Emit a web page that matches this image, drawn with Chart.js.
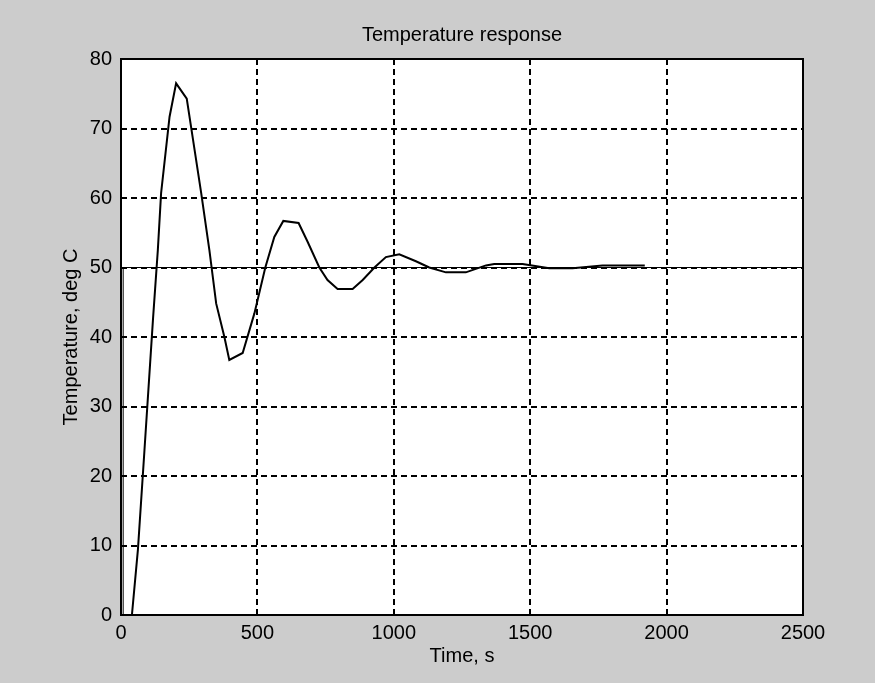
<!DOCTYPE html>
<html>
<head>
<meta charset="utf-8">
<script src="https://cdn.jsdelivr.net/npm/chart.js@4"></script>
<style>
  body { margin: 0; background: #cccccc; }
  canvas { display: block; }
</style>
</head>
<body>
<canvas id="tempChart" width="875" height="683"></canvas>
<script>
// Temperature response data
const times = [0, 40, 62, 86, 117, 135, 147, 178, 202, 241, 294, 324, 349, 379, 397, 446, 489, 529, 562, 595, 651, 684, 727, 757, 794, 849, 886, 929, 971, 1020, 1081, 1130, 1191, 1264, 1338, 1368, 1472, 1570, 1655, 1765, 1920];
const temps = [0, 0, 9.4, 23.7, 42.4, 52.5, 60.7, 71.7, 76.5, 74.3, 60.7, 52.5, 44.8, 40, 36.7, 37.7, 43.4, 50, 54.4, 56.7, 56.4, 53.7, 50, 48.2, 46.9, 46.9, 48.2, 50, 51.5, 51.9, 50.9, 50, 49.3, 49.3, 50.3, 50.5, 50.5, 49.9, 49.9, 50.3, 50.3];

// Setpoint step
const setTimes = [8, 8, 2500];
const setTemps = [0, 50, 50];

// Axis ticks
const xTicks = [0, 500, 1000, 1500, 2000, 2500];
const yTicks = [0, 10, 20, 30, 40, 50, 60, 70, 80];

const font = { family: '"Liberation Sans", Arial, sans-serif', size: 20, weight: 'normal' };

// gray page, white plot, black frame
const plotFrame = {
  id: 'plotFrame',
  beforeDraw(chart) {
    const { ctx, chartArea: a } = chart;
    ctx.save();
    ctx.fillStyle = '#cccccc';
    ctx.fillRect(0, 0, chart.width, chart.height);
    ctx.fillStyle = '#ffffff';
    ctx.fillRect(a.left, a.top, a.right - a.left, a.bottom - a.top);
    ctx.restore();
  },
  beforeDatasetsDraw(chart) {
    const { ctx, chartArea: a } = chart;
    ctx.save();
    ctx.strokeStyle = '#000';
    ctx.lineWidth = 2;
    ctx.strokeRect(a.left, a.top, a.right - a.left, a.bottom - a.top);
    ctx.restore();
  }
};

const tempCtx = document.getElementById('tempChart').getContext('2d');
const tempChart = new Chart(tempCtx, {
  type: 'line',
  data: {
    datasets: [{
      label: 'Temperature',
      data: times.map((t, i) => ({ x: t, y: temps[i] })),
      borderColor: '#000',
      borderWidth: 2,
      pointRadius: 0,
      tension: 0,
      fill: false
    }, {
      label: 'Setpoint',
      data: setTimes.map((t, i) => ({ x: t, y: setTemps[i] })),
      borderColor: '#000',
      borderWidth: 1,
      pointRadius: 0,
      tension: 0,
      fill: false
    }]
  },
  options: {
    responsive: false,
    animation: false,
    layout: { padding: { left: 0, right: 72, top: 0, bottom: 0 } },
    plugins: {
      legend: { display: false },
      tooltip: { enabled: false },
      title: {
        display: true,
        text: 'Temperature response',
        fullSize: false,
        color: '#000',
        font: font,
        padding: { top: 23, bottom: 12 }
      }
    },
    scales: {
      x: {
        type: 'linear',
        min: 0,
        max: 2500,
        afterBuildTicks: s => { s.ticks = xTicks.map(v => ({ value: v })); },
        afterFit: s => { s.height = 68; },
        ticks: { color: '#000', font: font, padding: 6, maxRotation: 0, autoSkip: false, callback: v => String(v) },
        grid: { color: '#000', lineWidth: 2, drawTicks: false },
        border: { display: false, dash: [6, 4] },
        title: { display: true, text: 'Time, s', color: '#000', font: font, padding: { top: 0, bottom: 15 } }
      },
      y: {
        min: 0,
        max: 80,
        afterBuildTicks: s => { s.ticks = yTicks.map(v => ({ value: v })); },
        afterFit: s => { s.width = 121; },
        ticks: { color: '#000', font: font, padding: 9, callback: v => String(v) },
        grid: { color: '#000', lineWidth: 2, drawTicks: false },
        border: { display: false, dash: [6, 4] },
        title: { display: true, text: 'Temperature, deg C', color: '#000', font: font, padding: { top: 59, bottom: 0 } }
      }
    }
  },
  plugins: [plotFrame]
});
</script>
</body>
</html>
